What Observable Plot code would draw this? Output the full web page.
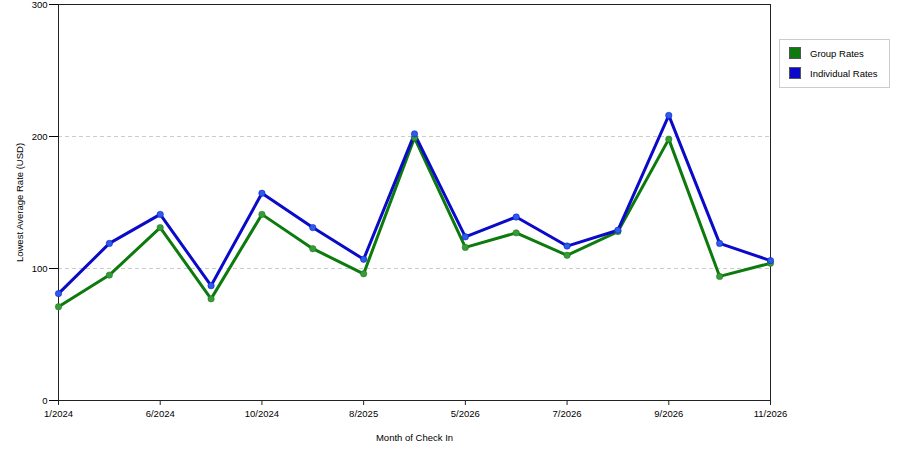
<!DOCTYPE html>
<html>
<head>
<meta charset="utf-8">
<script src="https://cdn.jsdelivr.net/npm/d3@7"></script>
<script src="https://cdn.jsdelivr.net/npm/@observablehq/plot@0.6"></script>
<style>
  body { margin: 0; background: #fff; font-family: "Liberation Sans", Arial, sans-serif; }
  #wrap { position: relative; width: 900px; height: 450px; }
  #legend { position: absolute; left: 779px; top: 39px; width: 109px; height: 47px; border: 1px solid #ccc; background: #fff; font-size: 9.5px; color: #000; }
  .item { position: absolute; left: 9px; display: flex; align-items: center; }
  .sw { width: 12px; height: 12px; margin-right: 9px; box-sizing: border-box; border: 1px solid #555; }
</style>
</head>
<body>
<div id="wrap">
  <div id="chart"></div>
  <div id="legend"></div>
</div>
<script>
const months = ["1/2024","3/2024","6/2024","8/2024","10/2024","12/2024","8/2025","4/2026","5/2026","6/2026","7/2026","8/2026","9/2026","10/2026","11/2026"];
const tickMonths = ["1/2024","6/2024","10/2024","8/2025","5/2026","7/2026","9/2026","11/2026"];
const groupRates = [71,95,131,77,141,115,96,199,116,127,110,128,198,94,104];
const individualRates = [81,119,141,87,157,131,107,202,124,139,117,129,216,119,106];
const yTicks = [0,100,200,300];
const gridValues = [100,200];
const seriesNames = ["Group Rates","Individual Rates"];
const lineColors = ["#0d7a0d","#0a0ac8"];
const dotColors = ["#3a9a3a","#2a5ee8"];

const data = [];
months.forEach((m, i) => {
  data.push({month: m, rate: groupRates[i], series: seriesNames[0]});
  data.push({month: m, rate: individualRates[i], series: seriesNames[1]});
});

const chart = Plot.plot({
  width: 900,
  height: 450,
  marginLeft: 58,
  marginRight: 130,
  marginTop: 4,
  marginBottom: 50,
  style: {fontFamily: "Liberation Sans, Arial, sans-serif", fontSize: "9.5px", color: "#000", background: "#fff"},
  x: {type: "point", domain: months, padding: 0, round: false},
  y: {domain: [0, 300]},
  color: {domain: seriesNames, range: lineColors},
  marks: [
    Plot.ruleY(gridValues, {stroke: "#ccc", strokeDasharray: "4,3", strokeWidth: 1}),
    Plot.frame({stroke: "#222", strokeWidth: 1}),
    Plot.axisX({ticks: tickMonths, tickSize: 5, tickPadding: 5, label: "Month of Check In", labelAnchor: "center", labelArrow: "none", labelOffset: 40, fontSize: "9.5px", stroke: "#222"}),
    Plot.axisY({ticks: yTicks, tickSize: 9, tickPadding: 2, label: "Lowest Average Rate (USD)", labelAnchor: "center", labelArrow: "none", labelOffset: 42, fontSize: "9.5px"}),
    Plot.line(data, {x: "month", y: "rate", stroke: "series", strokeWidth: 3, strokeLinejoin: "miter"}),
    Plot.dot(data, {x: "month", y: "rate", r: 3.2, fill: d => dotColors[seriesNames.indexOf(d.series)], stroke: d => lineColors[seriesNames.indexOf(d.series)], strokeOpacity: 0.5, strokeWidth: 1})
  ]
});
document.getElementById("chart").appendChild(chart);

const legend = document.getElementById("legend");
seriesNames.forEach((name, i) => {
  const item = document.createElement("div");
  item.className = "item";
  item.style.top = (7 + i * 20) + "px";
  const sw = document.createElement("div");
  sw.className = "sw";
  sw.style.background = lineColors[i];
  item.appendChild(sw);
  const t = document.createElement("span");
  t.textContent = name;
  item.appendChild(t);
  legend.appendChild(item);
});
</script>
</body>
</html>
